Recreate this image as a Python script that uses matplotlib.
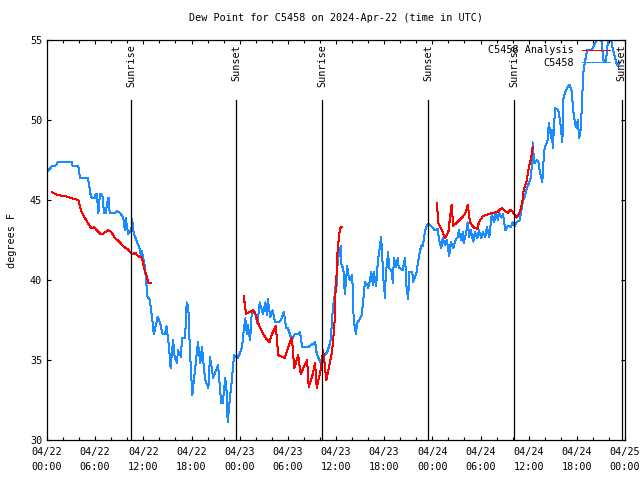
import matplotlib
matplotlib.use("Agg")
import matplotlib.pyplot as plt
import matplotlib.dates as mdates
import numpy as np
import pandas as pd

# observed dew point (C5458), hours since 2024-04-22 00:00 UTC
obs_hours = [0.1, 0.6, 1.0, 1.4, 3.1, 3.2, 3.9, 4.1, 5.1, 5.4, 5.6, 5.9, 6.1, 6.2, 6.4, 6.6,
             6.9, 7.1, 7.3, 7.6, 7.7, 7.8, 8.5, 8.7, 9.1, 9.5, 9.7, 9.8, 10.1, 10.5, 10.6, 10.8,
             11.2, 11.5, 11.7, 11.8, 12.1, 12.2, 12.3, 12.5, 12.8, 13.2, 13.3, 13.8, 14.1, 14.4,
             14.7, 14.9, 15.2, 15.4, 15.7, 15.9, 16.2, 16.3, 16.7, 16.8, 17.2, 17.4, 17.6, 17.8,
             18.1, 18.4, 18.8, 19.1, 19.3, 19.7, 20.1, 20.3, 20.7, 21.1, 21.3, 21.7, 21.9, 22.2,
             22.4, 22.5, 22.8, 23.0, 23.3, 23.7, 24.0, 24.3, 24.4, 24.7, 24.9, 25.0, 25.3, 25.5,
             25.9, 26.2, 26.5, 26.9, 27.2, 27.4, 27.5, 27.8, 28.1, 28.4, 29.0, 29.3, 29.5, 29.8,
             30.0, 30.5, 30.8, 31.3, 31.5, 31.8, 32.5, 33.4, 33.6, 34.0, 34.4, 34.6, 34.9, 35.3,
             35.5, 35.6, 35.9, 36.0, 36.1, 36.2, 36.4, 36.6, 36.7, 36.9, 37.1, 37.4, 37.5, 37.7,
             38.0, 38.1, 38.2, 38.5, 38.6, 38.9, 39.2, 39.4, 39.6, 39.9, 40.0, 40.2, 40.4, 40.6,
             40.7, 41.0, 41.2, 41.5, 41.6, 41.7, 41.9, 42.1, 42.2, 42.5, 42.6, 42.9, 43.1, 43.2,
             43.5, 43.7, 43.8, 44.3, 44.6, 44.8, 45.0, 45.1, 45.5, 45.6, 46.0, 46.2, 46.5, 46.7,
             46.8, 47.1, 47.3, 47.5, 48.0, 48.3, 48.7, 48.8, 49.1, 49.3, 49.6, 49.8, 50.1, 50.3,
             50.6, 50.9, 51.2, 51.3, 51.6, 51.8, 51.9, 52.2, 52.4, 52.6, 52.8, 53.1, 53.3, 53.6,
             53.8, 54.1, 54.3, 54.6, 54.8, 55.1, 55.3, 55.4, 55.7, 55.9, 56.2, 56.3, 56.6, 56.8,
             57.1, 57.4, 57.8, 58.0, 58.3, 58.5, 58.9, 59.3, 59.5, 59.8, 60.2, 60.4, 60.5, 60.7,
             61.0, 61.2, 61.4, 61.7, 61.8, 62.0, 62.3, 62.4, 62.5, 62.8, 62.9, 63.0, 63.3, 63.7,
             63.9, 64.2, 64.3, 64.5, 64.9, 65.1, 65.4, 65.5, 65.8, 66.0, 66.1, 66.3, 66.5, 66.8,
             67.0, 67.3, 67.9, 68.3, 68.7, 69.0, 69.3, 69.6, 69.9, 70.1, 70.5, 70.9, 71.1, 71.3]
obs_dewpt = [46.8, 47.1, 47.1, 47.4, 47.4, 47.1, 47.1, 46.4, 46.4, 45.4, 45.1, 45.1, 45.4, 45.4, 44.2, 45.4,
             45.3, 44.2, 44.2, 45.1, 45.1, 44.2, 44.2, 44.3, 44.2, 43.9, 43.1, 43.9, 42.9, 43.1, 43.8, 42.9,
             42.4, 42.0, 41.5, 41.8, 41.1, 40.75, 40.2, 39.0, 38.75, 37.2, 36.6, 37.7, 37.3, 36.6,
             36.6, 37.1, 35.8, 34.5, 36.25, 35.2, 34.8, 35.6, 35.2, 36.4, 36.4, 38.6, 38.3, 35.6,
             32.8, 34.2, 36.1, 34.8, 35.8, 33.75, 33.25, 35.2, 33.9, 34.4, 34.7, 32.3, 32.3, 33.9,
             32.9, 31.1, 32.7, 33.6, 35.3, 35.1, 35.4, 35.8, 36.4, 37.6, 36.6, 37.2, 36.25, 37.9,
             38.0, 37.3, 38.6, 37.9, 38.6, 37.8, 38.8, 37.7, 38.1, 37.4, 37.4, 37.7, 38.0, 37.0,
             37.0, 36.25, 36.6, 36.6, 36.75, 35.8, 35.8, 36.1, 35.4, 34.9, 35.2, 35.3, 35.5, 36.1,
             37.3, 38.25, 39.25, 40.2, 39.6, 41.1, 41.75, 42.1, 40.8, 40.8, 39.1, 40.9, 40.4, 40.0,
             40.3, 39.4, 37.5, 36.6, 37.3, 37.5, 37.8, 38.75, 39.9, 39.7, 39.5, 39.9, 40.5, 39.7,
             40.5, 39.6, 41.1, 42.2, 42.7, 42.1, 40.1, 38.9, 40.4, 41.75, 40.75, 40.6, 39.8, 41.4,
             40.8, 41.4, 40.8, 40.6, 41.4, 39.4, 38.8, 40.5, 40.5, 39.9, 40.4, 41.1, 41.9, 42.2,
             42.1, 43.1, 43.4, 43.5, 43.3, 43.1, 43.2, 42.6, 42.0, 42.6, 42.2, 42.5, 41.5, 42.4,
             42.0, 42.5, 42.7, 43.1, 42.5, 43.0, 42.3, 42.9, 43.6, 42.7, 43.1, 42.4, 43.0, 42.6,
             43.1, 42.6, 43.0, 42.7, 43.3, 42.7, 43.6, 44.1, 43.6, 44.2, 43.75, 44.25, 43.9, 44.1,
             43.1, 43.4, 43.3, 43.6, 43.4, 43.6, 43.75, 45.0, 45.2, 45.8, 46.25, 47.1, 48.6, 47.3,
             47.5, 47.4, 46.75, 46.1, 47.1, 48.3, 48.6, 48.9, 49.8, 48.9, 49.4, 48.25, 50.75, 50.6,
             50.0, 48.6, 51.25, 51.7, 52.1, 52.2, 51.75, 50.8, 49.7, 49.5, 50.0, 48.9, 49.5, 52.9,
             53.6, 54.4, 54.4, 54.8, 55.6, 55.3, 53.75, 53.6, 55.0, 55.5, 54.4, 53.6, 53.4, 53.6]

# analysis dew point, NaN marks the gaps between analysis runs
ana_hours = [0.6, 1.0, 1.4, 2.2, 3.1, 3.9, 4.2, 4.7, 5.1, 5.5, 5.9, 6.2, 6.6, 7.0, 7.6, 8.0,
             8.5, 9.0, 9.5, 10.1, 10.6, 11.0, 11.3, 11.8, 12.1, 12.5, 12.6, 13.0, 18.0,
             24.5, 24.8, 25.3, 25.7, 26.0, 26.3, 26.8, 27.2, 27.7, 28.0, 28.5, 28.8, 29.3, 29.6,
             30.0, 30.5, 30.8, 31.3, 31.6, 32.1, 32.4, 32.6, 33.0, 33.4, 33.6, 34.1, 34.4, 34.8,
             35.1, 35.5, 35.8, 35.9, 36.1, 36.2, 36.5, 36.7, 42.0,
             48.6, 48.7, 49.2, 49.6, 50.0, 50.2, 50.4, 50.6, 51.1, 51.7, 52.2, 52.4, 52.7, 53.1,
             53.6, 53.8, 54.3, 54.9, 55.6, 56.1, 56.4, 56.7, 57.1, 57.4, 57.8, 58.2, 58.5, 58.9,
             59.2, 59.3, 59.5, 59.8, 59.9, 60.2, 60.4, 60.5]
ana_dewpt = [45.5, 45.4, 45.3, 45.25, 45.1, 45.0, 44.4, 43.9, 43.55, 43.25, 43.3, 43.1, 42.9, 42.9, 43.1, 43.0,
             42.6, 42.4, 42.1, 41.9, 41.6, 41.7, 41.5, 41.4, 40.75, 40.1, 39.8, 39.8, np.nan,
             39.0, 37.9, 38.0, 38.1, 37.8, 37.3, 36.75, 36.4, 36.1, 36.6, 37.1, 35.3, 35.2, 35.1,
             35.75, 36.4, 34.5, 35.3, 34.1, 34.7, 35.0, 33.3, 33.9, 34.8, 33.25, 34.4, 35.6, 33.75,
             34.5, 35.5, 37.1, 38.9, 40.6, 41.9, 43.25, 43.3, np.nan,
             44.8, 43.6, 43.1, 42.6, 43.0, 43.9, 44.7, 43.4, 43.6, 43.9, 44.25, 44.7, 43.6, 43.3,
             43.2, 43.6, 44.0, 44.1, 44.2, 44.25, 44.4, 44.5, 44.3, 44.2, 44.4, 44.1, 43.9, 44.25,
             44.8, 45.4, 45.8, 46.25, 46.75, 47.4, 47.9, 48.3]

sun_times = ["2024-04-22 10:28", "2024-04-22 23:32", "2024-04-23 10:15",
             "2024-04-23 23:28", "2024-04-24 10:10", "2024-04-24 23:36"]
sun_labels = ["Sunrise", "Sunset", "Sunrise", "Sunset", "Sunrise", "Sunset"]

start = pd.Timestamp("2024-04-22 00:00")
obs_t = start + pd.to_timedelta(obs_hours, unit="h")
ana_t = start + pd.to_timedelta(ana_hours, unit="h")

mono = "DejaVu Sans Mono"
fs = 7.3
plt.rcParams["font.family"] = mono
plt.rcParams["font.size"] = fs

fig = plt.figure(figsize=(6.4, 4.8), dpi=100)
ax = fig.add_axes([47 / 640, 40 / 480, 578 / 640, 400 / 480])

blue = "#1a8cff"
l_obs, = ax.plot(obs_t, obs_dewpt, color=blue, lw=0.72, antialiased=False, label="C5458")
l_ana, = ax.plot(ana_t, ana_dewpt, color="red", lw=0.72, antialiased=False, label="C5458 Analysis")

for t, lab in zip(sun_times, sun_labels):
    ts = pd.Timestamp(t)
    ax.axvline(ts, ymin=0, ymax=0.85, color="black", lw=0.9)
    ax.text(ts, 0.99, lab, transform=ax.get_xaxis_transform(), rotation=90,
            ha="center", va="top", fontsize=fs)

ax.set_xlim(start, start + pd.Timedelta(hours=72))
ax.set_ylim(30, 55)
ax.xaxis.set_major_locator(mdates.HourLocator(byhour=[0, 6, 12, 18]))
ax.xaxis.set_minor_locator(mdates.HourLocator(byhour=range(0, 24, 2)))
ax.xaxis.set_major_formatter(mdates.DateFormatter("%m/%d\n%H:%M"))
ax.set_yticks([30, 35, 40, 45, 50, 55])
ax.tick_params(which="both", direction="in", top=True, right=True, labelsize=fs, width=0.8)
ax.tick_params(which="major", length=3.2)
ax.tick_params(which="minor", length=2.2)
ax.tick_params(axis="x", pad=5)
for lbl in ax.get_xticklabels():
    lbl.set_linespacing(1.6)
for sp in ax.spines.values():
    sp.set_linewidth(0.9)

ax.set_ylabel("degrees F", fontsize=fs, labelpad=9.5)
ax.set_title("Dew Point for C5458 on 2024-Apr-22 (time in UTC)", fontsize=fs, pad=14)

ax.legend(handles=[l_ana, l_obs], loc="upper right", bbox_to_anchor=(0.983, 1.0),
          frameon=False, markerfirst=False,
          fontsize=fs, handlelength=2.8, handletextpad=0.8, labelspacing=0.25,
          borderpad=0.2, borderaxespad=0.3)

fig.savefig("out.png", dpi=100)
